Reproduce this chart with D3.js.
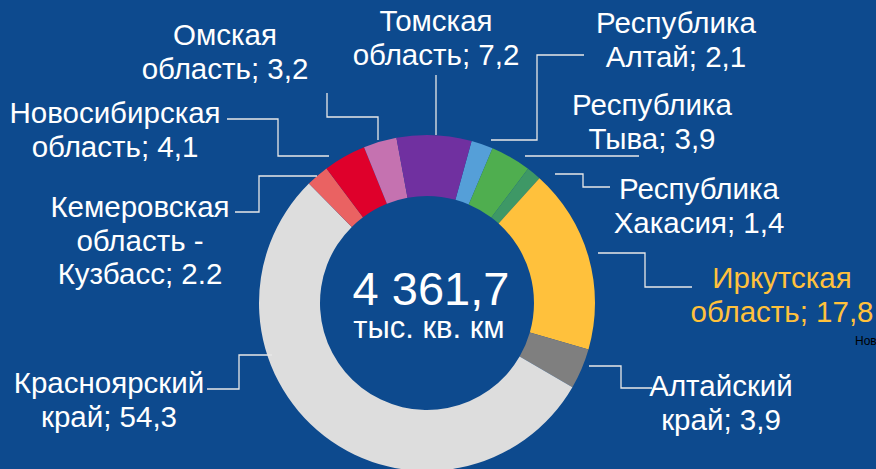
<!DOCTYPE html>
<html><head><meta charset="utf-8">
<script src="https://cdn.jsdelivr.net/npm/d3@7"></script>
<style>
html,body{margin:0;padding:0;background:#0d4a8e;overflow:hidden;}
svg{display:block;font-family:"Liberation Sans",Arial,sans-serif;}
</style></head><body>
<svg id="c" width="876" height="469"></svg>
<script>
// ---- data ----
const categories = ["Республика Алтай","Республика Тыва","Республика Хакасия","Иркутская область","Алтайский край","Красноярский край","Кемеровская область - Кузбасс","Новосибирская область","Омская область","Томская область"];
const values = [2.1, 3.9, 1.4, 17.8, 3.9, 54.3, 2.2, 4.1, 3.2, 7.2];
const labelLines = [
  ["Республика","Алтай; 2,1"],
  ["Республика","Тыва; 3,9"],
  ["Республика","Хакасия; 1,4"],
  ["Иркутская","область; 17,8"],
  ["Алтайский","край; 3,9"],
  ["Красноярский","край; 54,3"],
  ["Кемеровская","область -","Кузбасс; 2.2"],
  ["Новосибирская","область; 4,1"],
  ["Омская","область; 3,2"],
  ["Томская","область; 7,2"]
];
const totalValue = "4 361,7";
const totalUnit = "тыс. кв. км";
const colors = ["#559fd8","#4fae4f","#3e9866","#ffc13c","#7f7f7f","#dddddd","#ea6262","#df002b","#c572b0","#7030a0"];
const labelColors = ["#ffffff","#ffffff","#ffffff","#ffc13c","#ffffff","#ffffff","#ffffff","#ffffff","#ffffff","#ffffff"];

// ---- layout ----
const W = 876, H = 469;
const cx = 427, cy = 303, rOuter = 168, rInner = 107;
const startDeg = 15.4;
const fontSize = 29.5, lineH = 33.5;
// label centre x and first baseline y
const labelPos = [[676,33],[652,115],[699,199],[782,288],[721,396],[109,393],[140,217],[115,123],[225,45],[436,31]];
const leaders = [
  [[584,55],[537,55],[537,140],[491,140]],
  [[639,156],[525,156]],
  [[610,187],[583,187],[583,174],[555,174]],
  [[692,287],[645,287],[645,253],[598,253]],
  [[652,388],[621,388],[621,366],[589,366]],
  [[207,389],[239,389],[239,355],[272,355]],
  [[235,212],[259,212],[259,176],[317,176]],
  [[227,119],[278,119],[278,156],[329,156]],
  [[327,93],[327,117],[378,117],[378,140]],
  [[436,75],[436,135]]
];

const svg = d3.select("#c");
svg.append("rect").attr("width",W).attr("height",H).attr("fill","#0d4a8e");

const a0 = startDeg*Math.PI/180;
const pie = d3.pie().sort(null).value(d=>d).startAngle(a0).endAngle(a0+2*Math.PI);
const arc = d3.arc().innerRadius(rInner).outerRadius(rOuter);
const g = svg.append("g").attr("transform",`translate(${cx},${cy})`);
g.selectAll("path").data(pie(values)).join("path")
  .attr("d",arc).attr("fill",(d,i)=>colors[i]);

// leaders
const line = d3.line();
svg.append("g").selectAll("path").data(leaders).join("path")
  .attr("d",d=>line(d)).attr("fill","none").attr("stroke","#e8e8e8").attr("stroke-width",1.3);

// labels
const lg = svg.append("g");
labelLines.forEach((lines,i)=>{
  const t = lg.append("text").attr("text-anchor","middle").attr("font-size",fontSize).attr("fill",labelColors[i]);
  lines.forEach((s,j)=>{
    t.append("tspan").attr("x",labelPos[i][0]).attr("y",labelPos[i][1]+j*lineH).text(s);
  });
});

// centre text
svg.append("text").attr("x",cx+4).attr("y",305).attr("text-anchor","middle").attr("font-size",47).attr("fill","#fff").text(totalValue);
svg.append("text").attr("x",cx+2).attr("y",338).attr("text-anchor","middle").attr("font-size",31).attr("fill","#fff").text(totalUnit);

// clipped stray text at right edge
svg.append("text").attr("x",855).attr("y",345).attr("font-size",12).attr("fill","#000").text("Новосибирская");
</script>
</body></html>
